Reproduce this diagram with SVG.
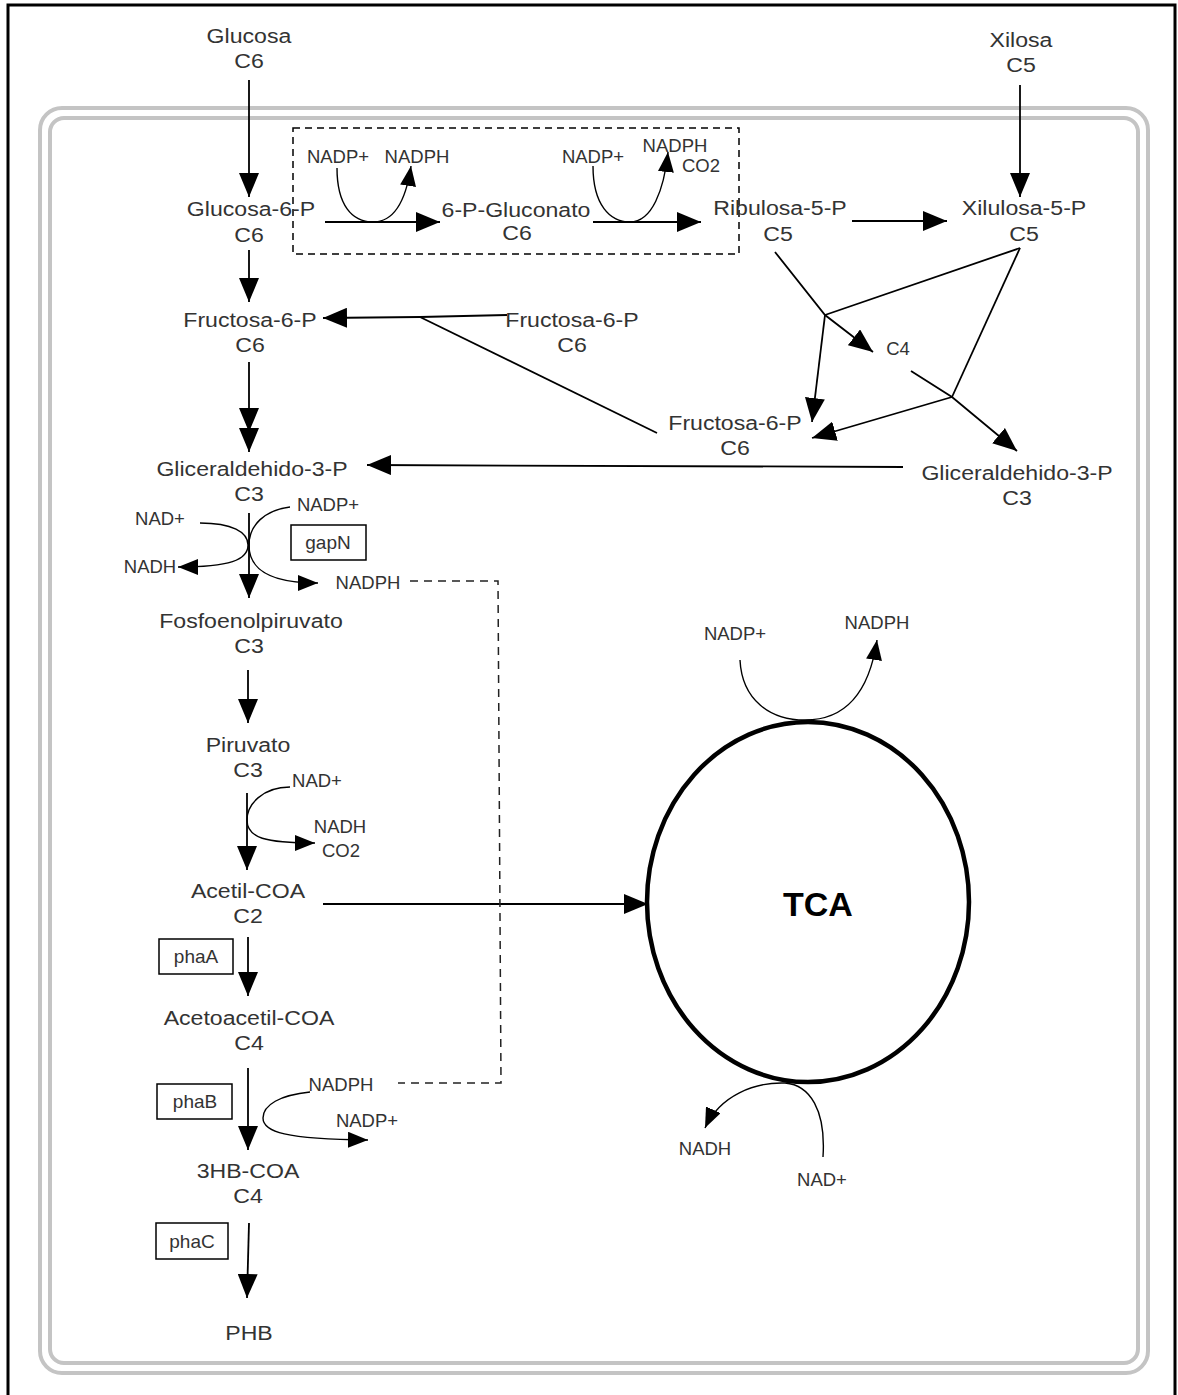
<svg xmlns="http://www.w3.org/2000/svg" width="1178" height="1395" viewBox="0 0 1178 1395">
<style>
text{font-family:"Liberation Sans",Arial,sans-serif;fill:#333;text-anchor:middle}
.m{font-size:21px;transform-box:fill-box;transform-origin:center;transform:scaleX(1.1)}
.s{font-size:18.5px}
.b{font-size:19px}
.tca{font-size:34px;font-weight:bold;fill:#000}
.ln{fill:none;stroke:#000;stroke-width:1.8}
.th{fill:none;stroke:#000;stroke-width:1.4}
.box{fill:#fff;stroke:#000;stroke-width:1.5}
.mem{fill:none;stroke:#c4c4c4;stroke-width:4}
</style>
<defs>
<marker id="ah" viewBox="0 0 24 20" refX="24" refY="10" markerWidth="24" markerHeight="20" markerUnits="userSpaceOnUse" orient="auto"><path d="M0,0 L24,10 L0,20 z" fill="#000"/></marker>
<marker id="as" viewBox="0 0 20 16" refX="20" refY="8" markerWidth="20" markerHeight="16" markerUnits="userSpaceOnUse" orient="auto"><path d="M0,0 L20,8 L0,16 z" fill="#000"/></marker>
</defs>
<rect x="0" y="0" width="1178" height="1395" fill="#fff"/>
<rect x="8" y="5" width="1167" height="1400" fill="none" stroke="#000" stroke-width="3"/>
<g id="membrane">
<rect class="mem" x="40" y="108" width="1108" height="1265" rx="22"/>
<rect class="mem" x="50" y="118" width="1088" height="1245" rx="14"/>
</g>
<g id="ppp-box"><rect x="293" y="128" width="446" height="126" fill="none" stroke="#000" stroke-width="1.5" stroke-dasharray="7 5"/></g>
<g id="tca"><ellipse cx="808" cy="902" rx="161" ry="180" fill="none" stroke="#000" stroke-width="4.5"/><text class="tca" x="818" y="916">TCA</text></g>

<g id="connectors">
<line class="ln" x1="249" y1="80" x2="249" y2="197" marker-end="url(#ah)"/>
<line class="ln" x1="249" y1="250" x2="249" y2="302" marker-end="url(#ah)"/>
<polyline class="ln" points="249,362 249,432 249,452" marker-mid="url(#ah)" marker-end="url(#ah)"/>
<line class="ln" x1="249" y1="513" x2="249" y2="598" marker-end="url(#ah)"/>
<line class="ln" x1="248" y1="670" x2="248" y2="723" marker-end="url(#ah)"/>
<line class="ln" x1="247" y1="793" x2="247" y2="870" marker-end="url(#ah)"/>
<line class="ln" x1="248" y1="937" x2="248" y2="996" marker-end="url(#ah)"/>
<line class="ln" x1="248" y1="1068" x2="248" y2="1150" marker-end="url(#ah)"/>
<line class="ln" x1="249" y1="1223" x2="247" y2="1298" marker-end="url(#ah)"/>
<line class="ln" x1="1020" y1="85" x2="1020" y2="197" marker-end="url(#ah)"/>
<line class="ln" x1="852" y1="221" x2="947" y2="221" marker-end="url(#ah)"/>
<line class="ln" x1="325" y1="222" x2="440" y2="222" marker-end="url(#ah)"/>
<line class="ln" x1="593" y1="222" x2="701" y2="222" marker-end="url(#ah)"/>
<line class="ln" x1="323" y1="904" x2="648" y2="904" marker-end="url(#ah)"/>
<line class="ln" x1="903" y1="467" x2="367" y2="465" marker-end="url(#ah)"/>
<polyline class="ln" points="507,315 420,317 323,318" marker-end="url(#ah)"/>
<line class="ln" x1="420" y1="317" x2="657" y2="433"/>
<polyline class="ln" points="775,252 825,315 873,352" marker-end="url(#ah)"/>
<line class="ln" x1="1020" y1="248" x2="825" y2="315"/>
<line class="ln" x1="1020" y1="248" x2="952" y2="397"/>
<line class="ln" x1="825" y1="315" x2="812" y2="422" marker-end="url(#ah)"/>
<polyline class="ln" points="911,371 952,397 1017,451" marker-end="url(#ah)"/>
<line class="ln" x1="952" y1="397" x2="812" y2="438" marker-end="url(#ah)"/>
<path class="th" d="M337,168 C337,205 352,222 373,222 C395,222 406,200 411,166" marker-end="url(#as)"/>
<path class="th" d="M593,166 C593,205 610,222 630,222 C652,222 664,190 668,152" marker-end="url(#as)"/>
<path class="th" d="M200,523 C232,523 248,532 248,545 C248,560 230,567 178,567" marker-end="url(#as)"/>
<path class="th" d="M290,507 C265,510 249,525 249,545 C249,570 270,583 318,583" marker-end="url(#as)"/>
<path class="th" d="M290,787 C262,787 247,805 247,820 C247,838 265,843 315,843" marker-end="url(#as)"/>
<path class="th" d="M310,1092 C280,1095 263,1105 263,1118 C263,1132 285,1139 368,1140" marker-end="url(#as)"/>
<path class="th" d="M740,660 C742,700 770,720 805,720 C840,720 868,700 877,640" marker-end="url(#as)"/>
<path class="th" d="M823,1157 C826,1110 810,1085 785,1083 C755,1082 720,1095 705,1128" marker-end="url(#as)"/>
<polyline points="410,581 498,581 501,1083 398,1083" fill="none" stroke="#222" stroke-width="1.5" stroke-dasharray="8 6"/>
</g>

<g id="n-glucosa"><text class="m" x="249" y="43">Glucosa</text><text class="m" x="249" y="68">C6</text></g>
<g id="n-g6p"><text class="m" x="251" y="216">Glucosa-6-P</text><text class="m" x="249" y="242">C6</text></g>
<g id="n-f6p"><text class="m" x="250" y="327">Fructosa-6-P</text><text class="m" x="250" y="352">C6</text></g>
<g id="n-gap"><text class="m" x="252" y="476">Gliceraldehido-3-P</text><text class="m" x="249" y="501">C3</text></g>
<g id="n-pep"><text class="m" x="251" y="628">Fosfoenolpiruvato</text><text class="m" x="249" y="653">C3</text></g>
<g id="n-pir"><text class="m" x="248" y="752">Piruvato</text><text class="m" x="248" y="777">C3</text></g>
<g id="n-acetil"><text class="m" x="248" y="898">Acetil-COA</text><text class="m" x="248" y="923">C2</text></g>
<g id="n-acetoacetil"><text class="m" x="249" y="1025">Acetoacetil-COA</text><text class="m" x="249" y="1050">C4</text></g>
<g id="n-3hb"><text class="m" x="248" y="1178">3HB-COA</text><text class="m" x="248" y="1203">C4</text></g>
<g id="n-phb"><text class="m" x="249" y="1340">PHB</text></g>
<g id="n-xilosa"><text class="m" x="1021" y="47">Xilosa</text><text class="m" x="1021" y="72">C5</text></g>
<g id="n-ribulosa"><text class="m" x="780" y="215">Ribulosa-5-P</text><text class="m" x="778" y="241">C5</text></g>
<g id="n-xilulosa"><text class="m" x="1024" y="215">Xilulosa-5-P</text><text class="m" x="1024" y="241">C5</text></g>
<g id="n-6pg"><text class="m" x="516" y="217">6-P-Gluconato</text><text class="m" x="517" y="240">C6</text></g>
<g id="n-f6p-2"><text class="m" x="572" y="327">Fructosa-6-P</text><text class="m" x="572" y="352">C6</text></g>
<g id="n-f6p-3"><text class="m" x="735" y="430">Fructosa-6-P</text><text class="m" x="735" y="455">C6</text></g>
<g id="n-gap-2"><text class="m" x="1017" y="480">Gliceraldehido-3-P</text><text class="m" x="1017" y="505">C3</text></g>
<g id="n-c4"><text class="s" x="898" y="355">C4</text></g>

<g id="cof-zwf"><text class="s" x="338" y="163">NADP+</text><text class="s" x="417" y="163">NADPH</text></g>
<g id="cof-gnd"><text class="s" x="593" y="163">NADP+</text><text class="s" x="675" y="152">NADPH</text><text class="s" x="701" y="172">CO2</text></g>
<g id="cof-gap"><text class="s" x="160" y="525">NAD+</text><text class="s" x="150" y="573">NADH</text><text class="s" x="328" y="511">NADP+</text><text class="s" x="368" y="589">NADPH</text></g>
<g id="cof-pdh"><text class="s" x="317" y="787">NAD+</text><text class="s" x="340" y="833">NADH</text><text class="s" x="341" y="857">CO2</text></g>
<g id="cof-phab"><text class="s" x="341" y="1091">NADPH</text><text class="s" x="367" y="1127">NADP+</text></g>
<g id="cof-tca-top"><text class="s" x="735" y="640">NADP+</text><text class="s" x="877" y="629">NADPH</text></g>
<g id="cof-tca-bottom"><text class="s" x="705" y="1155">NADH</text><text class="s" x="822" y="1186">NAD+</text></g>

<g id="e-gapN"><rect class="box" x="291" y="525" width="75" height="35"/><text class="b" x="328" y="549">gapN</text></g>
<g id="e-phaA"><rect class="box" x="159" y="939" width="74" height="35"/><text class="b" x="196" y="963">phaA</text></g>
<g id="e-phaB"><rect class="box" x="157" y="1084" width="75" height="35"/><text class="b" x="195" y="1108">phaB</text></g>
<g id="e-phaC"><rect class="box" x="156" y="1223" width="72" height="36"/><text class="b" x="192" y="1248">phaC</text></g>
</svg>
